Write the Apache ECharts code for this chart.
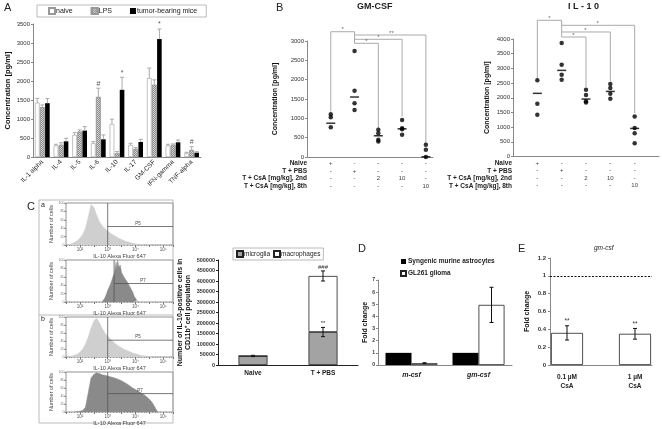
<!DOCTYPE html>
<html><head><meta charset="utf-8">
<script src="https://cdn.jsdelivr.net/npm/echarts@6/dist/echarts.min.js"></script>
<style>html,body{margin:0;padding:0;background:#fff}#c{width:662px;height:429px}</style>
</head><body><div id="c"></div><script>
const FONT = '"Liberation Sans", Arial, sans-serif';

// ---------- Panel A ----------
const aCats = ['IL-1 alpha','IL-4','IL-5','IL-6','IL-10','IL-17','GM-CSF','IFN-gamma','TNF-alpha'];
const aNaive    = [1430, 300, 580, 360, 870, 316, 2075, 300, 97];
const aNaiveErr = [115, 35, 60, 45, 125, 45, 265, 35, 26];
const aLPS      = [1310, 316, 668, 1580, 97, 211, 1900, 316, 185];
const aLPSErr   = [60, 60, 45, 230, 45, 35, 130, 28, 88];
const aTumor    = [1416, 413, 695, 466, 1768, 395, 3104, 387, 114];
const aTumorErr = [123, 80, 105, 115, 330, 70, 265, 60, 27];
const aMarkLPS   = ['', '', '', '#', '', '', '', '', '#'];
const aMarkTumor = ['', '', '', '', '*', '', '*', '', ''];

// ---------- Panel B ----------
const tableRows = ['Naive', 'T + PBS', 'T + CsA [mg/kg], 2nd', 'T + CsA [mg/kg], 8th'];
const tableCols = [['+','-','-','-'], ['-','+','-','-'], ['-','-','2','-'], ['-','-','10','-'], ['-','-','-','10']];
const gmPoints = [[1106, 1029, 771], [2743, 1714, 1389, 1217], [703, 617, 446, 403], [960, 746, 720, 574], [317, 189, 0]];
const gmMeans  = [874, 1551, 549, 729, 5];
const gmBrackets = [[1, 1174, 2, 2940, 3240], [2, 2940, 3, 746, 2940], [2, 3044, 4, 1046, 3044], [2, 3155, 5, 360, 3155]];
const gmStars = [[1.5, 3240, '*'], [2.5, 2940, '*'], [3.0, 3044, '*'], [3.55, 3155, '**']];
const ilPoints = [[2600, 1800, 1420], [3864, 3125, 2784, 2614], [2270, 2090, 1880, 1840], [2466, 2330, 2136, 1966], [1364, 966, 795, 455]];
const ilMeans  = [2150, 2932, 1955, 2216, 955];
const ilBrackets = [[1, 2636, 2, 4068, 4636], [2, 4466, 5, 1477, 4466], [2, 4239, 4, 2557, 4239], [2, 4068, 3, 2364, 4068]];
const ilStars = [[1.5, 4636, '*'], [3.48, 4466, '*'], [2.98, 4239, '*'], [2.48, 4068, '*']];

// ---------- Panel C (flow histograms, x = log10 fluorescence) ----------
const hist1 = [[1.5,0],[1.6,1],[1.7,3],[1.8,6],[1.9,10],[2.0,16],[2.1,25],[2.2,40],[2.3,66],[2.4,96],[2.45,100],[2.5,90],[2.6,72],[2.7,56],[2.8,46],[2.9,39],[3.0,33],[3.1,28],[3.2,24],[3.3,20],[3.4,16],[3.5,13],[3.6,10],[3.7,8],[3.8,6],[3.9,4],[4.0,3],[4.1,2],[4.2,1],[4.3,0]];
const hist2 = [[2.8,0],[2.85,4],[2.9,10],[2.95,18],[3.0,28],[3.05,24],[3.1,42],[3.15,38],[3.2,62],[3.25,70],[3.3,95],[3.33,78],[3.36,100],[3.4,82],[3.45,88],[3.5,70],[3.55,74],[3.6,58],[3.65,62],[3.7,48],[3.75,52],[3.8,36],[3.85,30],[3.9,24],[3.95,14],[4.0,10],[4.05,4],[4.1,0]];
const hist3 = [[1.5,0],[1.7,2],[1.9,7],[2.0,12],[2.1,20],[2.2,32],[2.3,50],[2.4,72],[2.5,90],[2.6,97],[2.7,86],[2.8,72],[2.9,60],[3.0,52],[3.1,45],[3.2,38],[3.3,32],[3.4,27],[3.5,23],[3.6,19],[3.7,16],[3.8,13],[3.9,10],[4.0,8],[4.2,4],[4.4,2],[4.6,0]];
const hist4 = [[1.8,0],[2.0,2],[2.1,4],[2.2,12],[2.3,48],[2.4,85],[2.5,94],[2.6,98],[2.7,96],[2.8,93],[2.9,92],[3.0,90],[3.1,88],[3.2,86],[3.3,84],[3.4,81],[3.5,78],[3.6,74],[3.7,70],[3.8,65],[3.9,60],[4.0,56],[4.1,52],[4.2,48],[4.3,44],[4.4,38],[4.5,32],[4.6,24],[4.7,12],[4.8,0]];
const histGates = [[3.0, 44, 4.09, 'P5'], [3.23, 44, 4.27, 'P7'], [3.0, 42, 4.09, 'P5'], [3.0, 46, 4.16, 'P7']];
const histTicks = {2: '10²', 3: '10³', 4: '10⁴', 5: '10⁵'};

const cCats = ['Naive', 'T + PBS'];
const cMicro = [43000, 157000];
const cMicroErr = [3000, 22000];
const cMacro = [0, 267000];
const cMacroErr = [0, 24000];
const cMarkMicro = ['', '**'];
const cMarkMacro = ['', '###'];

// ---------- Panel D ----------
const dCats = ['m-csf', 'gm-csf'];
const dAstro = [1, 1];
const dGlioma = [0.15, 4.95];
const dGliomaErr = [0.04, 1.45];

// ---------- Panel E ----------
const eCats = ['0.1 µM\nCsA', '1 µM\nCsA'];
const eVals = [0.36, 0.35];
const eErr = [0.08, 0.06];
const eMark = ['**', '**'];
const eRef = 1;

// ---------- helpers ----------
const axisGray = '#888';
const plain = function (v) { return String(Math.round(v * 100) / 100); };
function yAx(gi, max, interval, name, gap, extra) {
  const base = {
    type: 'value', gridIndex: gi, min: 0, max: max, interval: interval,
    name: name, nameLocation: 'middle', nameGap: gap,
    nameTextStyle: {fontFamily: FONT, fontSize: 7, fontWeight: 'bold', color: '#111'},
    axisLine: {show: true, lineStyle: {color: axisGray, width: 1}},
    axisTick: {show: true, length: 2, lineStyle: {color: axisGray}},
    axisLabel: {fontFamily: FONT, fontSize: 6, color: '#333', margin: 3},
    splitLine: {show: false}
  };
  const r = Object.assign(base, extra || {});
  r.axisLabel = Object.assign({}, r.axisLabel, {formatter: plain});
  return r;
}
function errBar(opts) {
  return function (params, api) {
    const x = api.value(0), v = api.value(1), e = api.value(2);
    const base = api.coord([x, v]);
    const cx = base[0] + (opts.offset || 0);
    const top = api.coord([x, v + e])[1];
    const bot = opts.both ? api.coord([x, v - e])[1] : base[1];
    const children = [];
    if (e > 0) {
      children.push({type: 'line', shape: {x1: cx, y1: bot, x2: cx, y2: top}, style: {stroke: opts.color, lineWidth: 1}});
      children.push({type: 'line', shape: {x1: cx - opts.cap, y1: top, x2: cx + opts.cap, y2: top}, style: {stroke: opts.color, lineWidth: 1}});
      if (opts.both) children.push({type: 'line', shape: {x1: cx - opts.cap, y1: bot, x2: cx + opts.cap, y2: bot}, style: {stroke: opts.color, lineWidth: 1}});
    }
    const m = opts.marks ? opts.marks[params.dataIndex] : '';
    if (m) children.push({type: 'text', style: {text: m, x: cx, y: top - 1, align: 'center', verticalAlign: 'bottom', fontFamily: FONT, fontSize: opts.markSize || 7, fill: opts.markColor || '#555'}});
    return {type: 'group', children: children};
  };
}
function bracketRender(params, api) {
  const a = api.coord([api.value(0), api.value(1)]);
  const b = api.coord([api.value(0), api.value(4)]);
  const c = api.coord([api.value(2), api.value(4)]);
  const d = api.coord([api.value(2), api.value(3)]);
  return {type: 'polyline', shape: {points: [a, b, c, d]}, style: {stroke: '#aaa', lineWidth: 1, fill: null}};
}
function starRender(stars) {
  return function (params, api) {
    const p = api.coord([api.value(0), api.value(1)]);
    return {type: 'text', style: {text: stars[params.dataIndex][2], x: p[0], y: p[1] + 1, align: 'center', verticalAlign: 'bottom', fontFamily: FONT, fontSize: 6, fill: '#666'}};
  };
}
function gateRender(params, api, idx) {
  const gx = api.value(0), gy = api.value(1), lx = api.value(2);
  const cs = params.coordSys;
  const pv = api.coord([gx, gy]);
  const pl = api.coord([lx, gy]);
  const right = cs.x + cs.width;
  const ch = [
    {type: 'line', shape: {x1: pv[0], y1: cs.y, x2: pv[0], y2: cs.y + cs.height}, style: {stroke: '#555', lineWidth: 0.8}},
    {type: 'line', shape: {x1: pv[0], y1: pv[1], x2: right, y2: pv[1]}, style: {stroke: '#555', lineWidth: 0.8}},
    {type: 'text', style: {text: histGates[idx][3], x: pl[0], y: pv[1] - 0.5, align: 'center', verticalAlign: 'bottom', fontFamily: FONT, fontSize: 4.5, fill: '#444'}}
  ];
  return {type: 'group', children: ch};
}
function toXY(groups) {
  const out = [];
  groups.forEach(function (g, i) { g.forEach(function (v) { out.push([i + 1, v]); }); });
  return out;
}
function meansXY(m) { return m.map(function (v, i) { return [i + 1, v]; }); }
function tableFmt(v) {
  const i = Math.round(v);
  if (Math.abs(v - i) > 1e-6 || i < 1 || i > 5) return '';
  return tableCols[i - 1].join('\n');
}

const histGrids = [
  {left: 66, top: 203, width: 107, height: 42},
  {left: 66, top: 260, width: 107, height: 42},
  {left: 66, top: 317, width: 107, height: 40},
  {left: 66, top: 372, width: 107, height: 40}
];
const hists = [hist1, hist2, hist3, hist4];
const histColors = ['#cfcfcf', '#8a8a8a', '#cfcfcf', '#8a8a8a'];

const grids = [
  {left: 33, top: 24, width: 168, height: 133},            // 0 A
  {left: 307, top: 41, width: 126, height: 116},           // 1 B GM-CSF
  {left: 513, top: 39, width: 146, height: 117.5},         // 2 B IL-10
].concat(histGrids.map(function (g) { return Object.assign({show: true, borderColor: '#777', borderWidth: 0.8}, g); })) // 3..6
 .concat([
  {left: 218, top: 260, width: 140, height: 105},          // 7 C bars
  {left: 378, top: 280, width: 134, height: 85},           // 8 D
  {left: 550, top: 258, width: 102, height: 107}           // 9 E
]);

const xAxes = [
  {type: 'category', gridIndex: 0, data: aCats, axisLine: {lineStyle: {color: axisGray}}, axisTick: {show: false},
   axisLabel: {rotate: 45, fontFamily: FONT, fontSize: 6.5, color: '#222', margin: 4, interval: 0}},
  {type: 'value', gridIndex: 1, min: 0, max: 5.3, interval: 1, axisLine: {show: true, lineStyle: {color: axisGray}}, axisTick: {show: false}, splitLine: {show: false},
   axisLabel: {formatter: tableFmt, fontFamily: FONT, fontSize: 6, lineHeight: 7.5, color: '#444', margin: 3, showMaxLabel: false}},
  {type: 'value', gridIndex: 2, min: 0, max: 6, interval: 1, axisLine: {show: true, lineStyle: {color: axisGray}}, axisTick: {show: false}, splitLine: {show: false},
   axisLabel: {formatter: tableFmt, fontFamily: FONT, fontSize: 6, lineHeight: 7.5, color: '#444', margin: 3}}
].concat(histGrids.map(function (g, i) {
  return {type: 'value', gridIndex: 3 + i, min: 1.5, max: 5.35, interval: 0.5,
    name: 'IL-10 Alexa Fluor 647', nameLocation: 'middle', nameGap: 8,
    nameTextStyle: {fontFamily: FONT, fontSize: 5.5, color: '#444'},
    axisLine: {show: false}, axisTick: {show: true, length: 2, lineStyle: {color: '#777'}},
    minorTick: {show: true, splitNumber: 5, length: 1, lineStyle: {color: '#999'}},
    axisLabel: {formatter: function (v) { return histTicks[v] || ''; }, fontFamily: FONT, fontSize: 4.5, color: '#555', margin: 2},
    splitLine: {show: false}};
})).concat([
  {type: 'category', gridIndex: 7, data: cCats, axisLine: {lineStyle: {color: '#222'}}, axisTick: {show: false},
   axisLabel: {fontFamily: FONT, fontSize: 6.5, fontWeight: 'bold', color: '#222', margin: 5}},
  {type: 'category', gridIndex: 8, data: dCats, axisLine: {lineStyle: {color: axisGray}}, axisTick: {show: false},
   axisLabel: {fontFamily: FONT, fontSize: 7, fontWeight: 'bold', fontStyle: 'italic', color: '#222', margin: 7}},
  {type: 'category', gridIndex: 9, data: [eCats[0], '', eCats[1]], axisLine: {lineStyle: {color: axisGray}}, axisTick: {show: false},
   axisLabel: {fontFamily: FONT, fontSize: 6.5, fontWeight: 'bold', color: '#222', margin: 8, lineHeight: 9, interval: 0}}
]);

const yAxes = [
  yAx(0, 3500, 500, 'Concentration [pg/ml]', 21, {nameTextStyle: {fontFamily: FONT, fontSize: 7.5, fontWeight: 'bold', color: '#111'}}),
  yAx(1, 3000, 500, 'Concentration [pg/ml]', 28),
  yAx(2, 4000, 500, 'Concentration [pg/ml]', 22)
].concat(histGrids.map(function (g, i) {
  return {type: 'value', gridIndex: 3 + i, min: 0, max: 100, interval: 20,
    name: 'Number of cells', nameLocation: 'middle', nameGap: 9,
    nameTextStyle: {fontFamily: FONT, fontSize: 5.5, color: '#444'},
    axisLine: {show: false}, axisTick: {show: true, length: 1.5, lineStyle: {color: '#777'}},
    axisLabel: {fontFamily: FONT, fontSize: 3.5, color: '#777', margin: 1.5},
    splitLine: {show: false}};
})).concat([
  yAx(7, 500000, 50000, 'Number of IL-10-positive cells in\nCD11b⁺ cell population', 24,
      {axisLine: {show: true, lineStyle: {color: '#222'}}, axisTick: {show: true, length: 2, lineStyle: {color: '#222'}},
       axisLabel: {fontFamily: FONT, fontSize: 5.5, fontWeight: 'bold', color: '#333', margin: 3},
       nameTextStyle: {fontFamily: FONT, fontSize: 7, fontWeight: 'bold', color: '#111', lineHeight: 8.5}}),
  yAx(8, 7, 1, 'Fold change', 8, {axisLabel: {fontFamily: FONT, fontSize: 5, fontWeight: 'bold', color: '#333', margin: 3}}),
  yAx(9, 1.2, 0.2, 'Fold change', 19, {axisLabel: {fontFamily: FONT, fontSize: 6, fontWeight: 'bold', color: '#333', margin: 4}})
]);

const bw = 4.6, gapPx = bw * 0.1;
const series = [
  // Panel A bars
  {name: 'naive', type: 'bar', xAxisIndex: 0, yAxisIndex: 0, data: aNaive, barWidth: bw, barGap: '10%',
   itemStyle: {color: '#fff', borderColor: '#999', borderWidth: 0.6}},
  {name: 'LPS', type: 'bar', xAxisIndex: 0, yAxisIndex: 0, data: aLPS, barWidth: bw, barGap: '10%',
   itemStyle: {color: '#d8d8d8', borderColor: '#999', borderWidth: 0.6,
     decal: {symbol: 'rect', symbolSize: 1, dashArrayX: [[1, 1], [0, 1, 1, 0]], dashArrayY: [1, 0], color: '#888'}}},
  {name: 'tumor-bearing mice', type: 'bar', xAxisIndex: 0, yAxisIndex: 0, data: aTumor, barWidth: bw, barGap: '10%',
   itemStyle: {color: '#000'}},
  {type: 'custom', xAxisIndex: 0, yAxisIndex: 0, data: aNaive.map(function (v, i) { return [i, v, aNaiveErr[i]]; }),
   renderItem: errBar({offset: -(bw + gapPx), color: '#aaa', cap: 2}), z: 5},
  {type: 'custom', xAxisIndex: 0, yAxisIndex: 0, data: aLPS.map(function (v, i) { return [i, v, aLPSErr[i]]; }),
   renderItem: errBar({offset: 0, color: '#aaa', cap: 2, marks: aMarkLPS}), z: 5},
  {type: 'custom', xAxisIndex: 0, yAxisIndex: 0, data: aTumor.map(function (v, i) { return [i, v, aTumorErr[i]]; }),
   renderItem: errBar({offset: bw + gapPx, color: '#aaa', cap: 2, marks: aMarkTumor}), z: 5},

  // Panel B GM-CSF
  {type: 'custom', xAxisIndex: 1, yAxisIndex: 1, data: gmBrackets, renderItem: bracketRender, clip: false, encode: {x: [0, 2], y: [1, 3, 4]}},
  {type: 'custom', xAxisIndex: 1, yAxisIndex: 1, data: gmStars.map(function (s) { return [s[0], s[1]]; }), renderItem: starRender(gmStars), clip: false},
  {type: 'scatter', xAxisIndex: 1, yAxisIndex: 1, data: toXY(gmPoints), symbolSize: 4.5, itemStyle: {color: '#000'}, clip: false},
  {type: 'scatter', xAxisIndex: 1, yAxisIndex: 1, data: meansXY(gmMeans), symbol: 'rect', symbolSize: [9, 1.5], itemStyle: {color: '#000'}, clip: false},
  // Panel B IL-10
  {type: 'custom', xAxisIndex: 2, yAxisIndex: 2, data: ilBrackets, renderItem: bracketRender, clip: false, encode: {x: [0, 2], y: [1, 3, 4]}},
  {type: 'custom', xAxisIndex: 2, yAxisIndex: 2, data: ilStars.map(function (s) { return [s[0], s[1]]; }), renderItem: starRender(ilStars), clip: false},
  {type: 'scatter', xAxisIndex: 2, yAxisIndex: 2, data: toXY(ilPoints), symbolSize: 4.5, itemStyle: {color: '#000'}},
  {type: 'scatter', xAxisIndex: 2, yAxisIndex: 2, data: meansXY(ilMeans), symbol: 'rect', symbolSize: [9, 1.5], itemStyle: {color: '#000'}}
];
hists.forEach(function (h, i) {
  series.push({type: 'line', xAxisIndex: 3 + i, yAxisIndex: 3 + i, data: h, symbol: 'none',
    lineStyle: {color: histColors[i], width: 0.5}, areaStyle: {color: histColors[i], opacity: 1}});
  series.push({type: 'custom', xAxisIndex: 3 + i, yAxisIndex: 3 + i, data: [histGates[i].slice(0, 3)],
    renderItem: (function (idx) { return function (p, api) { return gateRender(p, api, idx); }; })(i), z: 5});
});
const cTotal = cMicro.map(function (v, i) { return v + cMacro[i]; });
series.push(
  {name: 'microglia', type: 'bar', stack: 'c', xAxisIndex: 7, yAxisIndex: 7, data: cMicro, barWidth: 29,
   itemStyle: {color: '#a3a3a3', borderColor: '#222', borderWidth: 0.8}},
  {name: 'macrophages', type: 'bar', stack: 'c', xAxisIndex: 7, yAxisIndex: 7, data: cMacro, barWidth: 29,
   itemStyle: {color: '#fff', borderColor: '#222', borderWidth: 0.8}},
  {type: 'custom', xAxisIndex: 7, yAxisIndex: 7, data: cMicro.map(function (v, i) { return [i, v, cMicroErr[i]]; }),
   renderItem: errBar({both: true, color: '#111', cap: 2, marks: cMarkMicro, markSize: 6, markColor: '#333'}), z: 5},
  {type: 'custom', xAxisIndex: 7, yAxisIndex: 7, data: cTotal.map(function (v, i) { return [i, v, cMacroErr[i]]; }),
   renderItem: errBar({both: true, color: '#111', cap: 2, marks: cMarkMacro, markSize: 6, markColor: '#333'}), z: 5},

  {name: 'Syngenic murine astrocytes', type: 'bar', xAxisIndex: 8, yAxisIndex: 8, data: dAstro, barWidth: 26, barGap: 0,
   itemStyle: {color: '#000'}},
  {name: 'GL261 glioma', type: 'bar', xAxisIndex: 8, yAxisIndex: 8, data: dGlioma, barWidth: 26, barGap: 0,
   itemStyle: {color: '#fff', borderColor: '#222', borderWidth: 0.8}},
  {type: 'custom', xAxisIndex: 8, yAxisIndex: 8, data: dGlioma.map(function (v, i) { return [i, v, dGliomaErr[i]]; }),
   renderItem: errBar({both: true, offset: 13, color: '#111', cap: 2}), z: 5},

  {type: 'bar', xAxisIndex: 9, yAxisIndex: 9, data: [eVals[0], '-', eVals[1]], barWidth: 32,
   itemStyle: {color: '#fff', borderColor: '#222', borderWidth: 0.8},
   markLine: {silent: true, symbol: 'none', label: {show: false}, lineStyle: {color: '#111', type: [2, 1.5], width: 1}, data: [{yAxis: eRef}]}},
  {type: 'custom', xAxisIndex: 9, yAxisIndex: 9, data: [[0, eVals[0], eErr[0]], [2, eVals[1], eErr[1]]],
   renderItem: errBar({both: true, color: '#111', cap: 2, marks: eMark, markSize: 6.5, markColor: '#333'}), z: 5}
);

const legendBase = {icon: 'rect', itemWidth: 6, itemHeight: 6, selectedMode: false};
const option = {
  animation: false,
  textStyle: {fontFamily: FONT},
  grid: grids, xAxis: xAxes, yAxis: yAxes, series: series,
  legend: [
    Object.assign({}, legendBase, {data: ['naive', 'LPS', 'tumor-bearing mice'], left: 37, top: 5, borderColor: '#aaa', borderWidth: 0.8,
      padding: [2, 9, 2, 11], itemGap: 18,
      textStyle: {fontFamily: FONT, fontSize: 7, color: '#222', padding: [0, 0, 0, -4]}}),
    Object.assign({}, legendBase, {data: ['microglia', 'macrophages'], left: 233, top: 248, borderColor: '#aaa', borderWidth: 0.8,
      padding: [2, 3, 2, 3], itemGap: 3, textStyle: {fontFamily: FONT, fontSize: 6.5, color: '#222', padding: [0, 0, 0, -4]}}),
    Object.assign({}, legendBase, {data: ['Syngenic murine astrocytes', 'GL261 glioma'], left: 395, top: 253, orient: 'vertical', itemGap: 5,
      itemWidth: 5, itemHeight: 5, textStyle: {fontFamily: FONT, fontSize: 6.5, fontWeight: 'bold', color: '#222', padding: [0, 0, 0, -3]}})
  ],
  graphic: [
    {type: 'text', left: 4, top: 2, style: {text: 'A', font: '11px ' + FONT, fill: '#222'}},
    {type: 'text', left: 276, top: 2, style: {text: 'B', font: '11px ' + FONT, fill: '#222'}},
    {type: 'text', left: 357, top: 2, style: {text: 'GM-CSF', font: 'bold 9px ' + FONT, fill: '#222'}},
    {type: 'text', left: 568, top: 2, style: {text: 'I L - 1 0', font: 'bold 9px ' + FONT, fill: '#222'}},
    {type: 'text', left: 27, top: 201, style: {text: 'C', font: '11px ' + FONT, fill: '#222'}},
    {type: 'text', left: 41, top: 202, style: {text: 'a', font: '7px ' + FONT, fill: '#222'}},
    {type: 'text', left: 41, top: 316, style: {text: 'b', font: '7px ' + FONT, fill: '#222'}},
    {type: 'text', left: 358, top: 243, style: {text: 'D', font: '11px ' + FONT, fill: '#222'}},
    {type: 'text', left: 518, top: 243, style: {text: 'E', font: '11px ' + FONT, fill: '#222'}},
    {type: 'text', left: 594, top: 245, style: {text: 'gm-csf', font: 'italic 6.5px ' + FONT, fill: '#222'}},
    {type: 'rect', shape: {x: 39, y: 200, width: 134, height: 223}, style: {fill: null, stroke: '#aaa', lineWidth: 0.8}},
    {type: 'line', shape: {x1: 39, y1: 315, x2: 173, y2: 315}, style: {stroke: '#aaa', lineWidth: 0.8}}
  ].concat(tableRows.map(function (t, i) {
    return {type: 'text', right: 662 - 307, top: 160 + i * 7.5, style: {text: t, font: 'bold 6.5px ' + FONT, fill: '#222'}};
  })).concat(tableRows.map(function (t, i) {
    return {type: 'text', right: 662 - 512, top: 160 + i * 7.5, style: {text: t, font: 'bold 6.5px ' + FONT, fill: '#222'}};
  }))
};
const chart = echarts.init(document.getElementById('c'), null, {renderer: 'canvas'});
chart.setOption(option);
</script></body></html>
